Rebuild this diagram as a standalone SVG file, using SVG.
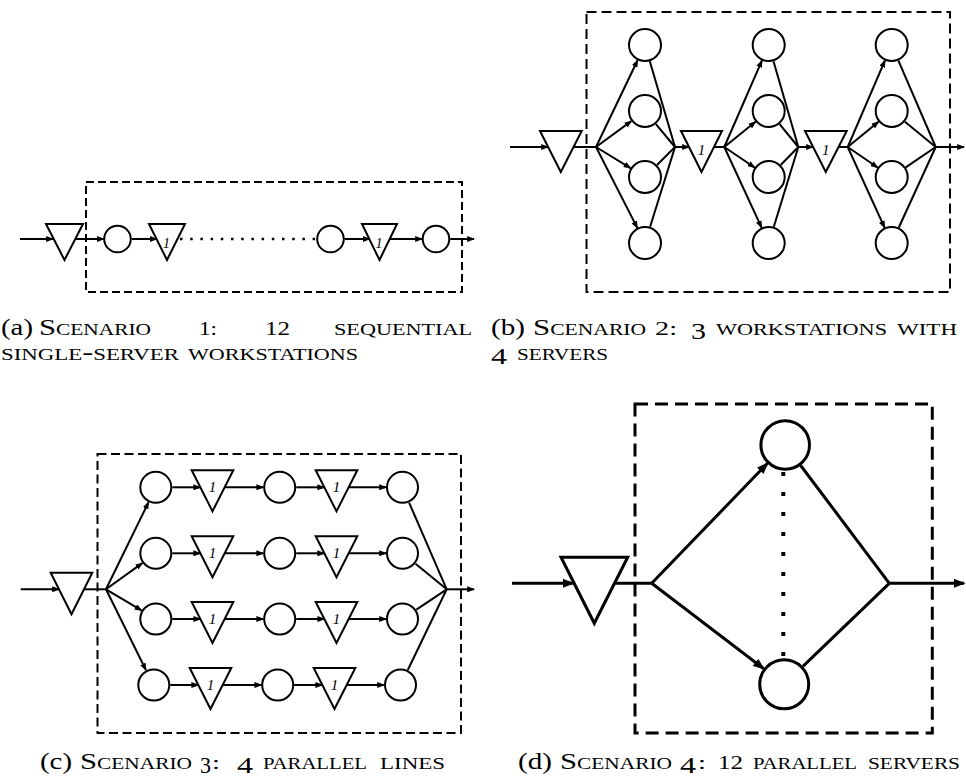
<svg xmlns="http://www.w3.org/2000/svg" width="966" height="781" viewBox="0 0 966 781">
<defs>
  <marker id="arr" viewBox="0 0 4 3" refX="3.4" refY="1.5" markerWidth="4" markerHeight="3" orient="auto">
    <path d="M0,0 L4,1.5 L0,3 z" fill="#000"/>
  </marker>
  <style>
    .ln { stroke:#000; stroke-width:2; fill:none; }
    .ar { stroke:#000; stroke-width:2; fill:none; marker-end:url(#arr); }
    .nd { fill:#fff; stroke:#000; stroke-width:2; }
    .box { fill:none; stroke:#000; stroke-width:2; }
    .dot { stroke:#000; fill:none; }
    .q { font-family:"Liberation Serif", serif; font-style:italic; text-anchor:middle; fill:#000; }
    .cap { font-family:"Liberation Serif", serif; font-size:23px; font-variant:small-caps; fill:#000; }
    .cap .lbl { font-variant:normal; }
    .cap .osf { font-size:18px; }
    .thick .ln, .thick .ar, .thick .nd, .thick .box { stroke-width:3; }
  </style>
</defs>

<!-- ===== (a) twelve single-server stations in series ===== -->
<g id="panel-a">
  <rect class="box" x="86" y="182" width="376" height="110" stroke-dasharray="8 4"/>
  <g id="a-links">
    <line class="ar" x1="20" y1="239" x2="53" y2="239"/>
    <line class="ar" x1="75.5" y1="239" x2="103.5" y2="239"/>
    <line class="ar" x1="131.7" y1="239" x2="156.5" y2="239"/>
    <line class="dot" x1="180" y1="239" x2="316" y2="239" stroke-width="2.5" stroke-dasharray="2.5 7.7"/>
    <line class="ar" x1="344.7" y1="239" x2="369.5" y2="239"/>
    <line class="ar" x1="389.7" y1="239" x2="422" y2="239"/>
    <line class="ar" x1="450.2" y1="239" x2="474" y2="239"/>
  </g>
  <g id="a-buffer-in"><polygon class="nd" points="46,224 83,224 64.5,260"/></g>
  <g id="a-server-1"><circle class="nd" cx="117.5" cy="239" r="13.3"/></g>
  <g id="a-buffer-1"><polygon class="nd" points="149,224 185,224 167,260"/><text class="q" x="166.5" y="247.5" font-size="14">1</text></g>
  <g id="a-server-11"><circle class="nd" cx="330.5" cy="239" r="13.3"/></g>
  <g id="a-buffer-11"><polygon class="nd" points="362,224 397,224 379.5,260"/><text class="q" x="379" y="247.5" font-size="14">1</text></g>
  <g id="a-server-12"><circle class="nd" cx="436" cy="239" r="13.3"/></g>
</g>

<!-- ===== (b) three stations, four servers each ===== -->
<g id="panel-b">
  <rect class="box" x="586.5" y="12" width="363.5" height="280" stroke-dasharray="10 5"/>
  <g id="b-links">
    <line class="ar" x1="510" y1="147" x2="548" y2="147"/>
    <line class="ln" x1="573.5" y1="147" x2="596" y2="147"/>
    <!-- station 1 -->
    <line class="ar" x1="596" y1="147" x2="637.6" y2="60.3"/>
    <line class="ar" x1="596" y1="147" x2="631.3" y2="121.1"/>
    <line class="ar" x1="596" y1="147" x2="630.5" y2="168.1"/>
    <line class="ar" x1="596" y1="147" x2="637.3" y2="227.9"/>
    <line class="ln" x1="649.8" y1="61.3" x2="675" y2="147"/>
    <line class="ln" x1="655.9" y1="124.1" x2="675" y2="147"/>
    <line class="ln" x1="657" y1="165" x2="675" y2="147"/>
    <line class="ln" x1="650.1" y1="226.8" x2="675" y2="147"/>
    <line class="ar" x1="675" y1="147" x2="689" y2="147"/>
    <line class="ln" x1="714" y1="147" x2="724.3" y2="147"/>
    <!-- station 2 -->
    <line class="ar" x1="724.3" y1="147" x2="761.9" y2="60.6"/>
    <line class="ar" x1="724.3" y1="147" x2="755.5" y2="121.7"/>
    <line class="ar" x1="724.3" y1="147" x2="754.6" y2="167.5"/>
    <line class="ar" x1="724.3" y1="147" x2="761.6" y2="227.6"/>
    <line class="ln" x1="773.5" y1="61.3" x2="798.3" y2="147"/>
    <line class="ln" x1="779.6" y1="124.1" x2="798.3" y2="147"/>
    <line class="ln" x1="780.7" y1="165" x2="798.3" y2="147"/>
    <line class="ln" x1="773.8" y1="226.8" x2="798.3" y2="147"/>
    <line class="ar" x1="798.3" y1="147" x2="813" y2="147"/>
    <line class="ln" x1="838.7" y1="147" x2="847.7" y2="147"/>
    <!-- station 3 -->
    <line class="ar" x1="847.7" y1="147" x2="884.9" y2="60.6"/>
    <line class="ar" x1="847.7" y1="147" x2="878.5" y2="121.7"/>
    <line class="ar" x1="847.7" y1="147" x2="877.6" y2="167.5"/>
    <line class="ar" x1="847.7" y1="147" x2="884.6" y2="227.6"/>
    <line class="ln" x1="898.4" y1="60.6" x2="935.7" y2="147"/>
    <line class="ln" x1="904.9" y1="121.8" x2="935.7" y2="147"/>
    <line class="ln" x1="905.7" y1="167.4" x2="935.7" y2="147"/>
    <line class="ln" x1="898.8" y1="227.5" x2="935.7" y2="147"/>
    <line class="ar" x1="935.7" y1="147" x2="964" y2="147"/>
  </g>
  <g id="b-buffer-in"><polygon class="nd" points="540,131 581.7,131 560.8,172"/></g>
  <g id="b-station-1">
    <circle class="nd" cx="645" cy="45" r="16"/>
    <circle class="nd" cx="645" cy="111" r="16"/>
    <circle class="nd" cx="645" cy="177" r="16"/>
    <circle class="nd" cx="645" cy="243" r="16"/>
  </g>
  <g id="b-buffer-2"><polygon class="nd" points="681,131 722,131 701.5,172"/><text class="q" x="701.5" y="155" font-size="15">1</text></g>
  <g id="b-station-2">
    <circle class="nd" cx="768.7" cy="45" r="16"/>
    <circle class="nd" cx="768.7" cy="111" r="16"/>
    <circle class="nd" cx="768.7" cy="177" r="16"/>
    <circle class="nd" cx="768.7" cy="243" r="16"/>
  </g>
  <g id="b-buffer-3"><polygon class="nd" points="805,131 846.7,131 825.8,172"/><text class="q" x="825.8" y="155" font-size="15">1</text></g>
  <g id="b-station-3">
    <circle class="nd" cx="891.7" cy="45" r="16"/>
    <circle class="nd" cx="891.7" cy="111" r="16"/>
    <circle class="nd" cx="891.7" cy="177" r="16"/>
    <circle class="nd" cx="891.7" cy="243" r="16"/>
  </g>
</g>

<!-- ===== (c) four parallel lines ===== -->
<g id="panel-c">
  <rect class="box" x="97.5" y="454" width="363.5" height="279" stroke-dasharray="9 4.5"/>
  <g id="c-links">
    <line class="ar" x1="20.7" y1="589.3" x2="59" y2="589.3"/>
    <line class="ln" x1="84" y1="589.3" x2="106" y2="589.3"/>
    <line class="ar" x1="106" y1="589.3" x2="148.5" y2="502.3"/>
    <line class="ar" x1="106" y1="589.3" x2="142.3" y2="563.1"/>
    <line class="ar" x1="106" y1="589.3" x2="141.5" y2="610.4"/>
    <line class="ar" x1="106" y1="589.3" x2="145.9" y2="670"/>
    <line class="ln" x1="409.1" y1="502.6" x2="446.7" y2="589.3"/>
    <line class="ln" x1="415.5" y1="563.8" x2="446.7" y2="589.3"/>
    <line class="ln" x1="416.4" y1="609.7" x2="446.7" y2="589.3"/>
    <line class="ln" x1="407.8" y1="670" x2="446.7" y2="589.3"/>
    <line class="ar" x1="446.7" y1="589.3" x2="474" y2="589.3"/>
    <!-- rows -->
    <line class="ar" x1="172.3" y1="487.3" x2="200.2" y2="487.3"/>
    <line class="ar" x1="224.8" y1="487.3" x2="263.2" y2="487.3"/>
    <line class="ar" x1="296.2" y1="487.3" x2="324.2" y2="487.3"/>
    <line class="ar" x1="348.8" y1="487.3" x2="386" y2="487.3"/>
    <line class="ar" x1="172.3" y1="553.3" x2="200.2" y2="553.3"/>
    <line class="ar" x1="224.8" y1="553.3" x2="263.2" y2="553.3"/>
    <line class="ar" x1="296.2" y1="553.3" x2="324.2" y2="553.3"/>
    <line class="ar" x1="348.8" y1="553.3" x2="386" y2="553.3"/>
    <line class="ar" x1="172.3" y1="619" x2="200.2" y2="619"/>
    <line class="ar" x1="224.8" y1="619" x2="263.2" y2="619"/>
    <line class="ar" x1="296.2" y1="619" x2="324.2" y2="619"/>
    <line class="ar" x1="348.8" y1="619" x2="386" y2="619"/>
    <line class="ar" x1="170.3" y1="685" x2="198.2" y2="685"/>
    <line class="ar" x1="222.8" y1="685" x2="261.2" y2="685"/>
    <line class="ar" x1="294.2" y1="685" x2="322.2" y2="685"/>
    <line class="ar" x1="346.8" y1="685" x2="384" y2="685"/>
  </g>
  <g id="c-buffer-in"><polygon class="nd" points="50.7,572.7 92.3,572.7 71.5,614.3"/></g>
  <g id="c-line-1">
    <circle class="nd" cx="155.8" cy="487.3" r="15.5"/>
    <polygon class="nd" points="191.7,470.3 233.3,470.3 212.5,511.3"/><text class="q" x="212.5" y="492.3" font-size="15">1</text>
    <circle class="nd" cx="279.7" cy="487.3" r="15.5"/>
    <polygon class="nd" points="315.7,470.3 357.3,470.3 336.5,511.3"/><text class="q" x="336.5" y="492.3" font-size="15">1</text>
    <circle class="nd" cx="402.5" cy="487.3" r="15.5"/>
  </g>
  <g id="c-line-2">
    <circle class="nd" cx="155.8" cy="553.3" r="15.5"/>
    <polygon class="nd" points="191.7,536.3 233.3,536.3 212.5,577.3"/><text class="q" x="212.5" y="558.3" font-size="15">1</text>
    <circle class="nd" cx="279.7" cy="553.3" r="15.5"/>
    <polygon class="nd" points="315.7,536.3 357.3,536.3 336.5,577.3"/><text class="q" x="336.5" y="558.3" font-size="15">1</text>
    <circle class="nd" cx="402.5" cy="553.3" r="15.5"/>
  </g>
  <g id="c-line-3">
    <circle class="nd" cx="155.8" cy="619" r="15.5"/>
    <polygon class="nd" points="191.7,602 233.3,602 212.5,643"/><text class="q" x="212.5" y="624" font-size="15">1</text>
    <circle class="nd" cx="279.7" cy="619" r="15.5"/>
    <polygon class="nd" points="315.7,602 357.3,602 336.5,643"/><text class="q" x="336.5" y="624" font-size="15">1</text>
    <circle class="nd" cx="402.5" cy="619" r="15.5"/>
  </g>
  <g id="c-line-4">
    <circle class="nd" cx="153.8" cy="685" r="15.5"/>
    <polygon class="nd" points="189.7,668 231.3,668 210.5,709"/><text class="q" x="210.5" y="690" font-size="15">1</text>
    <circle class="nd" cx="277.7" cy="685" r="15.5"/>
    <polygon class="nd" points="313.7,668 355.3,668 334.5,709"/><text class="q" x="334.5" y="690" font-size="15">1</text>
    <circle class="nd" cx="400.5" cy="685" r="15.5"/>
  </g>
</g>

<!-- ===== (d) twelve parallel servers ===== -->
<g id="panel-d" class="thick">
  <rect class="box" x="635" y="404" width="297.3" height="329" stroke-dasharray="13 7"/>
  <g id="d-links">
    <line class="ar" x1="512" y1="583.3" x2="573" y2="583.3"/>
    <line class="ln" x1="614.6" y1="583.3" x2="651.7" y2="583.3"/>
    <line class="ar" x1="651.7" y1="583.3" x2="767.3" y2="463.5"/>
    <line class="ar" x1="651.7" y1="583.3" x2="763.5" y2="668.5"/>
    <line class="ln" x1="800.7" y1="465.5" x2="889.3" y2="583.3"/>
    <line class="ln" x1="802.9" y1="666.3" x2="889.3" y2="583.3"/>
    <line class="ar" x1="889.3" y1="583.3" x2="964" y2="583.3"/>
    <line class="dot" x1="783.3" y1="472" x2="783.3" y2="660" stroke-width="4" stroke-dasharray="4 16"/>
  </g>
  <g id="d-buffer-in"><polygon class="nd" points="561,557.3 627.7,557.3 594.3,623.3"/></g>
  <g id="d-server-1"><circle class="nd" cx="785.2" cy="445" r="24.3"/></g>
  <g id="d-server-12"><circle class="nd" cx="784.2" cy="684.3" r="24.5"/></g>
</g>

<!-- ===== captions ===== -->
<g id="caption-a" class="cap">
  <text class="lbl" x="1" y="335" textLength="32" lengthAdjust="spacingAndGlyphs">(a)</text>
  <text x="39" y="335" textLength="112" lengthAdjust="spacingAndGlyphs">Scenario</text>
  <text class="osf" x="199" y="335" textLength="18" lengthAdjust="spacingAndGlyphs">1:</text>
  <text class="osf" x="265" y="335" textLength="25" lengthAdjust="spacingAndGlyphs">12</text>
  <text x="334" y="335" textLength="138" lengthAdjust="spacingAndGlyphs">sequential</text>
  <text x="1" y="360" textLength="178" lengthAdjust="spacingAndGlyphs">single-server</text>
  <text x="188" y="360" textLength="170" lengthAdjust="spacingAndGlyphs">workstations</text>
</g>
<g id="caption-b" class="cap">
  <text class="lbl" x="491" y="335" textLength="34" lengthAdjust="spacingAndGlyphs">(b)</text>
  <text x="533" y="335" textLength="113" lengthAdjust="spacingAndGlyphs">Scenario</text>
  <text class="osf" x="655" y="335" textLength="22" lengthAdjust="spacingAndGlyphs">2:</text>
  <text x="691" y="339" textLength="15" lengthAdjust="spacingAndGlyphs">3</text>
  <text x="716" y="335" textLength="171" lengthAdjust="spacingAndGlyphs">workstations</text>
  <text x="897" y="335" textLength="60" lengthAdjust="spacingAndGlyphs">with</text>
  <text x="491" y="364" textLength="16" lengthAdjust="spacingAndGlyphs">4</text>
  <text x="517" y="360" textLength="91" lengthAdjust="spacingAndGlyphs">servers</text>
</g>
<g id="caption-c" class="cap">
  <text class="lbl" x="40" y="769" textLength="32" lengthAdjust="spacingAndGlyphs">(c)</text>
  <text x="80" y="769" textLength="112" lengthAdjust="spacingAndGlyphs">Scenario</text>
  <text x="200" y="773" textLength="11" lengthAdjust="spacingAndGlyphs">3</text>
  <text class="osf" x="212" y="769" textLength="8" lengthAdjust="spacingAndGlyphs">:</text>
  <text x="237" y="773" textLength="16" lengthAdjust="spacingAndGlyphs">4</text>
  <text x="263" y="769" textLength="104" lengthAdjust="spacingAndGlyphs">parallel</text>
  <text x="380" y="769" textLength="65" lengthAdjust="spacingAndGlyphs">lines</text>
</g>
<g id="caption-d" class="cap">
  <text class="lbl" x="518" y="769" textLength="34" lengthAdjust="spacingAndGlyphs">(d)</text>
  <text x="560" y="769" textLength="112" lengthAdjust="spacingAndGlyphs">Scenario</text>
  <text x="680" y="773" textLength="16" lengthAdjust="spacingAndGlyphs">4</text>
  <text class="osf" x="698" y="769" textLength="8" lengthAdjust="spacingAndGlyphs">:</text>
  <text class="osf" x="718" y="769" textLength="25" lengthAdjust="spacingAndGlyphs">12</text>
  <text x="753" y="769" textLength="104" lengthAdjust="spacingAndGlyphs">parallel</text>
  <text x="868" y="769" textLength="92" lengthAdjust="spacingAndGlyphs">servers</text>
</g>
</svg>
